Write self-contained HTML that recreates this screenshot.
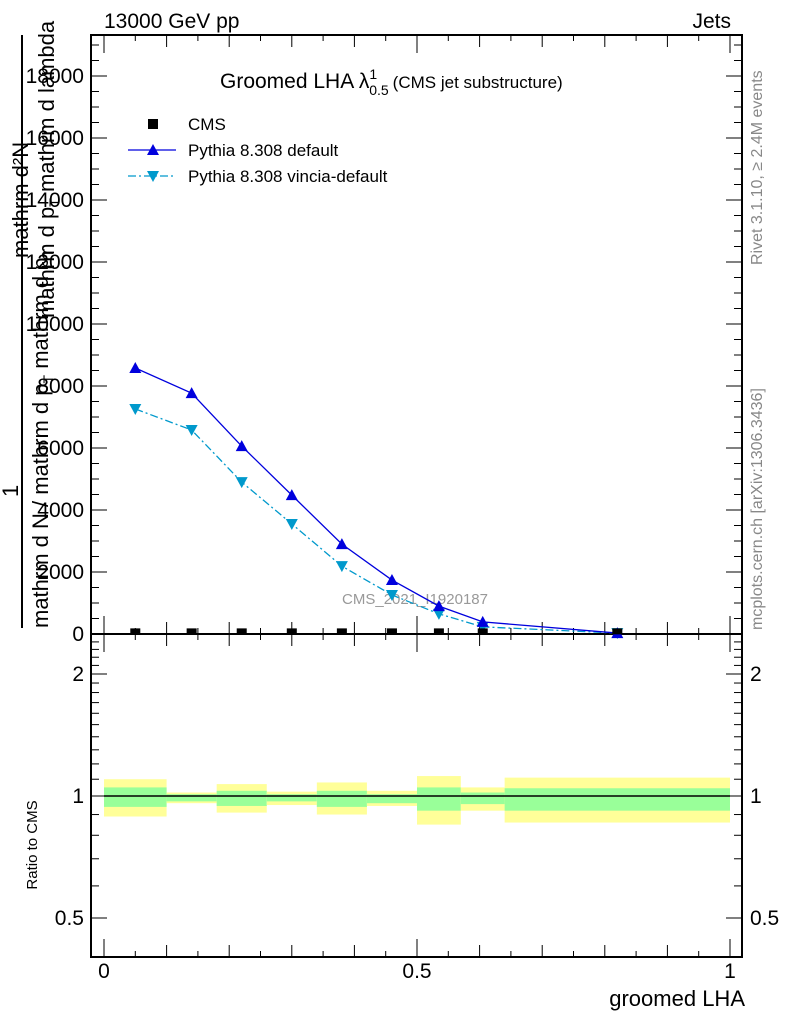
<!DOCTYPE html>
<html><head><meta charset="utf-8"><style>
body{margin:0;background:#fff;}
svg{display:block;font-family:"Liberation Sans",sans-serif;}
</style></head><body>
<svg id="c" width="786" height="1024" viewBox="0 0 786 1024" xmlns="http://www.w3.org/2000/svg">
<text x="104" y="28" font-size="21">13000 GeV pp</text>
<text x="731" y="28" font-size="21" text-anchor="end">Jets</text>
<text x="220" y="88" font-size="21">Groomed LHA λ<tspan font-size="14" dy="-9">1</tspan><tspan font-size="14" dy="16" dx="-8">0.5</tspan><tspan font-size="17" dy="-7" dx="4">(CMS jet substructure)</tspan></text>
<g font-size="22">
<text transform="translate(28,258) rotate(-90)">mathrm d²N</text>
<text transform="translate(54,318) rotate(-90)">mathrm d p<tspan font-size="14" dy="5">T</tspan><tspan dy="-5"> mathrm d lambda</tspan></text>
<line x1="22" y1="35" x2="22" y2="628" stroke="#000" stroke-width="2"/>
<text transform="translate(18,497) rotate(-90)">1</text>
<text transform="translate(48,628) rotate(-90)">mathrm d N / mathrm d p<tspan font-size="14" dy="5">T</tspan><tspan dy="-5"> mathrm d p</tspan><tspan font-size="14" dy="5">T</tspan></text>
</g>
<text transform="translate(762,265) rotate(-90)" font-size="16" fill="#888">Rivet 3.1.10, ≥ 2.4M events</text>
<text transform="translate(762,630) rotate(-90)" font-size="16" fill="#888">mcplots.cern.ch [arXiv:1306.3436]</text>
<text x="415" y="604" font-size="15" fill="#999" text-anchor="middle">CMS_2021_I1920187</text>
<text x="745" y="1006" font-size="22" text-anchor="end">groomed LHA</text>
<text transform="translate(37,845) rotate(-90)" font-size="15" text-anchor="middle">Ratio to CMS</text>
<g font-size="17">
<g><rect x="148" y="119" width="10" height="10" fill="#000"/><text x="188" y="130">CMS</text></g>
<g><line x1="128" y1="150" x2="176" y2="150" stroke="#0000dd" stroke-width="1.3"/><polygon points="153,144 147,155 159,155" fill="#0000dd"/><text x="188" y="156">Pythia 8.308 default</text></g>
<g><line x1="128" y1="176" x2="176" y2="176" stroke="#0099cc" stroke-width="1.3" stroke-dasharray="8,3,2,3"/><polygon points="147,171 159,171 153,182" fill="#0099cc"/><text x="188" y="182">Pythia 8.308 vincia-default</text></g>
</g>
<g id="g"></g>
</svg>
<script>
const binEdges=[0,0.1,0.18,0.26,0.34,0.42,0.5,0.57,0.64,1.0];
const xCenters=[0.05,0.14,0.22,0.30,0.38,0.46,0.535,0.605,0.82];
const cmsValues=[20,20,20,20,20,20,20,20,20];
const pythiaDefault=[8580,7770,6060,4480,2900,1740,900,390,30];
const pythiaVincia=[7260,6580,4900,3550,2190,1260,650,230,30];
const yellowHi=[1.10,1.02,1.07,1.025,1.08,1.03,1.12,1.05,1.11];
const yellowLo=[0.89,0.96,0.91,0.95,0.90,0.945,0.85,0.92,0.86];
const greenHi=[1.05,1.01,1.03,1.01,1.03,1.01,1.05,1.02,1.045];
const greenLo=[0.94,0.97,0.945,0.97,0.94,0.96,0.92,0.955,0.92];
const mainTicks=[0,2000,4000,6000,8000,10000,12000,14000,16000,18000];
const ratioTicks=[0.5,1,2];
const xTicks=[0,0.5,1];

const NS="http://www.w3.org/2000/svg";
const g=document.getElementById('g');
const L=91,R=742,T=35,MB=634,RB=957;
const X=v=>104+v*626;
const Y=v=>634-v*0.031;
const YR=v=>796-Math.log2(v)*122;
function el(t,a,p){const e=document.createElementNS(NS,t);for(const k in a)e.setAttribute(k,a[k]);(p||g).appendChild(e);return e;}

for(let i=0;i<xCenters.length;i++){
  let e=el('rect',{x:X(binEdges[i]),y:YR(yellowHi[i]),width:X(binEdges[i+1])-X(binEdges[i]),height:YR(yellowLo[i])-YR(yellowHi[i]),fill:'#ffff99'});
  
  
  e=el('rect',{x:X(binEdges[i]),y:YR(greenHi[i]),width:X(binEdges[i+1])-X(binEdges[i]),height:YR(greenLo[i])-YR(greenHi[i]),fill:'#99ff99'});
  
  
}
let rl=el('line',{x1:X(0),x2:X(1),y1:YR(1),y2:YR(1),stroke:'#000','stroke-width':1.5});



let f1=el('rect',{x:L,y:T,width:R-L,height:MB-T,fill:'none',stroke:'#000','stroke-width':2});


let f2=el('rect',{x:L,y:MB,width:R-L,height:RB-MB,fill:'none',stroke:'#000','stroke-width':2});



for(let v=0;v<=19000;v+=500){
  const y=Y(v),big=v%2000===0;const len=big?16:8;
  el('line',{x1:L,x2:L+len,y1:y,y2:y,stroke:'#000','stroke-width':1});
  el('line',{x1:R,x2:R-len,y1:y,y2:y,stroke:'#000','stroke-width':1});
}
mainTicks.forEach(v=>{const t=el('text',{x:84,y:Y(v)+7,'font-size':21,'text-anchor':'end'});t.textContent=String(v);

});
for(let v=0.4;v<=2.5;v+=0.1){const y=YR(v);if(y<MB||y>RB)continue;
  const big=[0.5,1,2].some(k=>Math.abs(k-v)<1e-6);const len=big?16:8;
  el('line',{x1:L,x2:L+len,y1:y,y2:y,stroke:'#000'});el('line',{x1:R,x2:R-len,y1:y,y2:y,stroke:'#000'});}
ratioTicks.forEach(v=>{const t=el('text',{x:84,y:YR(v)+7,'font-size':21,'text-anchor':'end'});t.textContent=String(v);


const t2=el('text',{x:750,y:YR(v)+7,'font-size':21});t2.textContent=String(v);

});
for(let k=0;k<=20;k++){const v=k*0.05,x=X(v);const len=k%10===0?18:(k%2===0?12:6);
  el('line',{x1:x,x2:x,y1:MB,y2:MB-len,stroke:'#000'});el('line',{x1:x,x2:x,y1:MB,y2:MB+len,stroke:'#000'});
  el('line',{x1:x,x2:x,y1:RB,y2:RB-len,stroke:'#000'});el('line',{x1:x,x2:x,y1:T,y2:T+len,stroke:'#000'});}
xTicks.forEach(v=>{const t=el('text',{x:X(v),y:978,'font-size':21,'text-anchor':'middle'});t.textContent=String(v);

});

function series(vals,color,dash,down,name){
  const pts=xCenters.map((c,i)=>X(c)+','+Y(vals[i])).join(' ');
  const p=el('polyline',{points:pts,fill:'none',stroke:color,'stroke-width':1.3,'stroke-dasharray':dash||'none'});
  
  
  xCenters.forEach((c,i)=>{const x=X(c),y=Y(vals[i]);
    const pp=down?`${x-6},${y-5} ${x+6},${y-5} ${x},${y+6}`:`${x},${y-6} ${x-6},${y+5} ${x+6},${y+5}`;
    const m=el('polygon',{points:pp,fill:color});
    
    });
}
series(pythiaVincia,'#0099cc','8,3,2,3',true,'pythia-vincia');
series(pythiaDefault,'#0000dd',null,false,'pythia-default');
xCenters.forEach((c,i)=>{const r=el('rect',{x:X(c)-5,y:Y(cmsValues[i])-5,width:10,height:6,fill:'#000'});

});
</script>
</body></html>
